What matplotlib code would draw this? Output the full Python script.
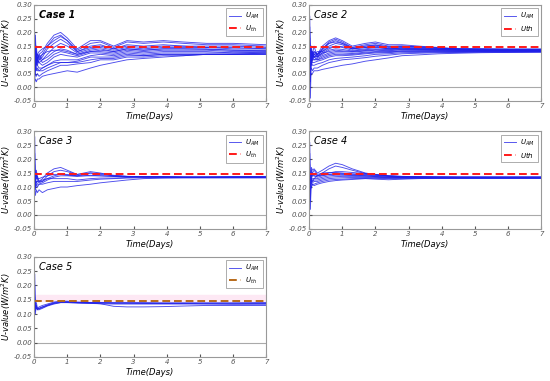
import numpy as np
import matplotlib.pyplot as plt

# time axis (days) shared by all curves
t = [0, 0.02, 0.04, 0.07, 0.1, 0.15, 0.25, 0.4, 0.6, 0.8, 1.0, 1.3, 1.7, 2.0, 2.4, 2.8, 3.3, 3.9, 4.5, 5.2, 6.0, 7.0]

u_th = 0.145

case1 = [
    [0.10, 0.20, 0.05, 0.15, 0.10, 0.12, 0.13, 0.16, 0.19, 0.20, 0.18, 0.14, 0.17, 0.17, 0.15, 0.17, 0.165, 0.17, 0.165, 0.16, 0.16, 0.155],
    [0.05, 0.18, 0.10, 0.12, 0.08, 0.10, 0.12, 0.15, 0.18, 0.19, 0.17, 0.135, 0.16, 0.165, 0.145, 0.165, 0.16, 0.165, 0.16, 0.155, 0.155, 0.15],
    [0.00, 0.12, 0.19, 0.09, 0.11, 0.10, 0.11, 0.14, 0.16, 0.175, 0.16, 0.13, 0.15, 0.155, 0.14, 0.155, 0.15, 0.155, 0.15, 0.15, 0.15, 0.145],
    [-0.03, 0.08, 0.14, 0.11, 0.09, 0.12, 0.10, 0.12, 0.145, 0.16, 0.15, 0.125, 0.14, 0.145, 0.135, 0.145, 0.14, 0.145, 0.145, 0.145, 0.14, 0.14],
    [0.02, 0.10, 0.06, 0.13, 0.10, 0.09, 0.10, 0.11, 0.13, 0.14, 0.135, 0.12, 0.135, 0.14, 0.13, 0.14, 0.135, 0.14, 0.14, 0.14, 0.135, 0.135],
    [0.08, 0.15, 0.09, 0.10, 0.12, 0.11, 0.09, 0.10, 0.12, 0.13, 0.125, 0.115, 0.13, 0.13, 0.125, 0.135, 0.13, 0.135, 0.135, 0.135, 0.13, 0.13],
    [0.00, 0.06, 0.11, 0.08, 0.10, 0.09, 0.08, 0.09, 0.11, 0.12, 0.115, 0.11, 0.125, 0.125, 0.12, 0.13, 0.125, 0.13, 0.13, 0.13, 0.125, 0.128],
    [0.03, 0.09, 0.07, 0.09, 0.08, 0.07, 0.07, 0.08, 0.095, 0.10, 0.10, 0.10, 0.115, 0.12, 0.115, 0.125, 0.12, 0.125, 0.125, 0.125, 0.125, 0.125],
    [0.01, 0.05, 0.08, 0.06, 0.07, 0.06, 0.06, 0.07, 0.08, 0.09, 0.09, 0.095, 0.11, 0.11, 0.11, 0.12, 0.115, 0.12, 0.12, 0.12, 0.12, 0.122],
    [0.00, 0.03, 0.05, 0.04, 0.05, 0.04, 0.05, 0.06, 0.07, 0.08, 0.08, 0.085, 0.09, 0.10, 0.10, 0.11, 0.11, 0.115, 0.115, 0.12, 0.12, 0.12],
    [0.01, 0.02, 0.03, 0.02, 0.03, 0.03, 0.04, 0.045, 0.05, 0.055, 0.06, 0.055, 0.07, 0.08, 0.09, 0.10, 0.105, 0.11, 0.115, 0.12, 0.12, 0.125],
    [0.06, 0.13, 0.08, 0.11, 0.12, 0.13, 0.14, 0.15, 0.17, 0.185, 0.17, 0.13, 0.145, 0.15, 0.14, 0.15, 0.145, 0.15, 0.15, 0.145, 0.145, 0.14],
    [0.04, 0.11, 0.12, 0.10, 0.11, 0.11, 0.12, 0.13, 0.135, 0.135, 0.13, 0.12, 0.13, 0.135, 0.13, 0.14, 0.135, 0.14, 0.14, 0.138, 0.135, 0.133],
    [0.02, 0.07, 0.09, 0.07, 0.06, 0.06, 0.07, 0.08, 0.09, 0.09, 0.09, 0.09, 0.10, 0.105, 0.105, 0.115, 0.115, 0.12, 0.12, 0.12, 0.12, 0.12],
]

case2 = [
    [0.12, 0.26, 0.05, 0.15, 0.11, 0.13, 0.12, 0.15, 0.17, 0.18, 0.17, 0.15, 0.16, 0.165, 0.155, 0.155, 0.15, 0.145, 0.14, 0.14, 0.14, 0.14],
    [0.10, 0.22, 0.02, 0.13, 0.12, 0.11, 0.11, 0.14, 0.165, 0.175, 0.165, 0.145, 0.155, 0.16, 0.15, 0.15, 0.148, 0.143, 0.14, 0.14, 0.138, 0.138],
    [0.08, 0.18, -0.04, 0.14, 0.10, 0.12, 0.12, 0.135, 0.16, 0.17, 0.16, 0.14, 0.15, 0.155, 0.145, 0.148, 0.145, 0.142, 0.14, 0.138, 0.137, 0.137],
    [0.05, 0.15, 0.10, 0.09, 0.13, 0.11, 0.12, 0.13, 0.15, 0.16, 0.155, 0.14, 0.145, 0.15, 0.142, 0.145, 0.143, 0.14, 0.138, 0.137, 0.136, 0.136],
    [0.00, 0.12, 0.14, 0.10, 0.12, 0.15, 0.11, 0.125, 0.14, 0.15, 0.145, 0.135, 0.14, 0.145, 0.14, 0.142, 0.14, 0.138, 0.137, 0.136, 0.135, 0.135],
    [0.04, 0.10, 0.12, 0.11, 0.10, 0.12, 0.11, 0.12, 0.135, 0.14, 0.138, 0.132, 0.137, 0.14, 0.137, 0.14, 0.138, 0.137, 0.136, 0.135, 0.134, 0.134],
    [0.06, 0.13, 0.08, 0.12, 0.11, 0.10, 0.105, 0.115, 0.125, 0.13, 0.13, 0.128, 0.132, 0.135, 0.133, 0.137, 0.136, 0.135, 0.134, 0.133, 0.133, 0.133],
    [0.02, 0.09, 0.11, 0.08, 0.10, 0.10, 0.10, 0.11, 0.12, 0.125, 0.125, 0.123, 0.128, 0.13, 0.13, 0.133, 0.133, 0.133, 0.132, 0.132, 0.132, 0.132],
    [0.00, 0.07, 0.09, 0.10, 0.09, 0.09, 0.095, 0.10, 0.11, 0.115, 0.115, 0.117, 0.122, 0.125, 0.126, 0.13, 0.13, 0.13, 0.13, 0.13, 0.13, 0.13],
    [0.03, 0.05, 0.07, 0.09, 0.08, 0.08, 0.085, 0.09, 0.10, 0.105, 0.107, 0.11, 0.115, 0.12, 0.122, 0.126, 0.127, 0.128, 0.128, 0.129, 0.129, 0.13],
    [0.00, 0.03, 0.06, 0.07, 0.06, 0.07, 0.07, 0.08, 0.09, 0.095, 0.10, 0.103, 0.108, 0.113, 0.117, 0.122, 0.124, 0.126, 0.127, 0.128, 0.128, 0.128],
    [-0.02, 0.01, 0.04, 0.05, 0.05, 0.06, 0.06, 0.065, 0.07, 0.075, 0.08, 0.085, 0.095, 0.10, 0.107, 0.115, 0.118, 0.122, 0.124, 0.126, 0.127, 0.128],
    [0.09, 0.20, 0.12, 0.13, 0.12, 0.13, 0.12, 0.14, 0.16, 0.165, 0.16, 0.145, 0.15, 0.153, 0.148, 0.15, 0.147, 0.143, 0.14, 0.139, 0.138, 0.137],
    [0.07, 0.16, 0.09, 0.12, 0.13, 0.12, 0.13, 0.13, 0.145, 0.15, 0.148, 0.14, 0.145, 0.147, 0.14, 0.143, 0.141, 0.139, 0.137, 0.136, 0.135, 0.135],
    [0.01, 0.11, 0.13, 0.12, 0.11, 0.11, 0.115, 0.125, 0.13, 0.135, 0.133, 0.13, 0.134, 0.137, 0.135, 0.138, 0.137, 0.136, 0.135, 0.134, 0.134, 0.134],
    [0.05, 0.08, 0.10, 0.11, 0.12, 0.11, 0.10, 0.105, 0.115, 0.12, 0.12, 0.12, 0.125, 0.128, 0.128, 0.132, 0.132, 0.132, 0.131, 0.131, 0.131, 0.131],
]

case3 = [
    [0.10, 0.28, 0.10, 0.16, 0.13, 0.12, 0.13, 0.15, 0.165, 0.17, 0.16, 0.145, 0.15, 0.145, 0.14, 0.138, 0.137, 0.136, 0.135, 0.135, 0.135, 0.135],
    [0.05, 0.22, 0.12, 0.15, 0.12, 0.115, 0.12, 0.14, 0.155, 0.16, 0.155, 0.145, 0.155, 0.15, 0.14, 0.138, 0.137, 0.137, 0.136, 0.136, 0.136, 0.136],
    [0.03, 0.16, 0.13, 0.13, 0.14, 0.12, 0.12, 0.13, 0.14, 0.145, 0.145, 0.14, 0.15, 0.148, 0.142, 0.138, 0.137, 0.137, 0.136, 0.136, 0.137, 0.138],
    [0.08, 0.18, 0.11, 0.12, 0.11, 0.11, 0.115, 0.125, 0.135, 0.14, 0.14, 0.138, 0.142, 0.14, 0.138, 0.136, 0.136, 0.135, 0.135, 0.135, 0.135, 0.135],
    [0.06, 0.14, 0.10, 0.12, 0.12, 0.12, 0.125, 0.13, 0.13, 0.13, 0.13, 0.125, 0.13, 0.132, 0.132, 0.134, 0.135, 0.135, 0.134, 0.134, 0.135, 0.135],
    [0.04, 0.12, 0.09, 0.11, 0.10, 0.11, 0.11, 0.115, 0.12, 0.12, 0.12, 0.12, 0.125, 0.128, 0.13, 0.132, 0.133, 0.133, 0.133, 0.133, 0.133, 0.133],
    [0.02, 0.10, 0.07, 0.09, 0.08, 0.09, 0.08, 0.09, 0.095, 0.10, 0.10, 0.105, 0.11, 0.115, 0.12, 0.125, 0.13, 0.132, 0.133, 0.133, 0.133, 0.133],
    [0.12, 0.15, 0.14, 0.14, 0.13, 0.13, 0.135, 0.14, 0.145, 0.145, 0.142, 0.14, 0.14, 0.14, 0.138, 0.137, 0.136, 0.136, 0.135, 0.135, 0.136, 0.137],
]

case4 = [
    [0.10, 0.26, 0.10, 0.17, 0.16, 0.165, 0.15, 0.16, 0.175, 0.185, 0.18, 0.165, 0.15, 0.145, 0.14, 0.138, 0.137, 0.136, 0.135, 0.135, 0.135, 0.135],
    [0.08, 0.22, 0.05, 0.16, 0.15, 0.16, 0.145, 0.15, 0.165, 0.175, 0.17, 0.16, 0.148, 0.143, 0.14, 0.138, 0.137, 0.136, 0.135, 0.135, 0.135, 0.135],
    [0.05, 0.18, 0.02, 0.15, 0.14, 0.15, 0.14, 0.145, 0.15, 0.155, 0.155, 0.152, 0.148, 0.145, 0.14, 0.137, 0.136, 0.135, 0.135, 0.135, 0.135, 0.135],
    [0.03, 0.15, 0.12, 0.13, 0.14, 0.14, 0.135, 0.14, 0.145, 0.148, 0.148, 0.147, 0.145, 0.142, 0.138, 0.136, 0.135, 0.135, 0.135, 0.135, 0.135, 0.135],
    [0.06, 0.14, 0.10, 0.13, 0.12, 0.13, 0.13, 0.135, 0.14, 0.142, 0.142, 0.141, 0.14, 0.138, 0.135, 0.134, 0.134, 0.134, 0.134, 0.134, 0.134, 0.134],
    [0.04, 0.12, 0.11, 0.12, 0.12, 0.125, 0.125, 0.13, 0.135, 0.137, 0.138, 0.138, 0.137, 0.135, 0.133, 0.133, 0.133, 0.133, 0.133, 0.133, 0.133, 0.133],
    [0.02, 0.10, 0.12, 0.11, 0.115, 0.12, 0.12, 0.125, 0.13, 0.132, 0.133, 0.134, 0.134, 0.133, 0.132, 0.132, 0.132, 0.132, 0.132, 0.132, 0.132, 0.132],
    [0.07, 0.11, 0.09, 0.10, 0.11, 0.11, 0.115, 0.12, 0.125, 0.127, 0.128, 0.13, 0.131, 0.131, 0.13, 0.13, 0.131, 0.131, 0.131, 0.131, 0.131, 0.131],
    [0.09, 0.13, 0.11, 0.12, 0.13, 0.13, 0.14, 0.15, 0.152, 0.152, 0.15, 0.146, 0.143, 0.14, 0.138, 0.136, 0.136, 0.136, 0.136, 0.136, 0.136, 0.136],
    [0.11, 0.16, 0.13, 0.14, 0.15, 0.14, 0.14, 0.142, 0.145, 0.146, 0.145, 0.143, 0.14, 0.137, 0.135, 0.134, 0.134, 0.134, 0.134, 0.134, 0.134, 0.134],
    [0.01, 0.09, 0.10, 0.10, 0.11, 0.105, 0.11, 0.115, 0.12, 0.123, 0.125, 0.127, 0.13, 0.128, 0.126, 0.128, 0.13, 0.131, 0.131, 0.131, 0.131, 0.131],
]

case5 = [
    [0.12, 0.24, 0.10, 0.14, 0.12, 0.125, 0.13, 0.135, 0.142, 0.145, 0.145, 0.142, 0.14, 0.14, 0.138, 0.138, 0.137, 0.137, 0.137, 0.136, 0.136, 0.137],
    [0.10, 0.20, 0.11, 0.13, 0.115, 0.12, 0.125, 0.13, 0.138, 0.142, 0.142, 0.14, 0.138, 0.136, 0.127, 0.125, 0.125, 0.126, 0.128, 0.13, 0.13, 0.13],
    [0.13, 0.16, 0.12, 0.12, 0.115, 0.115, 0.12, 0.128, 0.135, 0.14, 0.14, 0.138, 0.137, 0.136, 0.135, 0.135, 0.135, 0.135, 0.135, 0.135, 0.134, 0.134],
    [0.14, 0.15, 0.13, 0.125, 0.12, 0.118, 0.122, 0.13, 0.137, 0.14, 0.14, 0.14, 0.139, 0.138, 0.138, 0.138, 0.138, 0.138, 0.138, 0.138, 0.138, 0.138],
    [0.11, 0.14, 0.125, 0.12, 0.118, 0.12, 0.125, 0.132, 0.14, 0.143, 0.143, 0.14, 0.14, 0.14, 0.14, 0.14, 0.14, 0.139, 0.139, 0.139, 0.139, 0.14],
]

cases = [case1, case2, case3, case4, case5]
titles = ["Case 1", "Case 2", "Case 3", "Case 4", "Case 5"]
am_labels = ["$U_{AM}$", "$U_{AM}$", "$U_{AM}$", "$U_{AM}$", "$U_{AM}$"]
th_labels = ["$U_{th}$", "$Uth$", "$U_{th}$", "$Uth$", "$U_{th}$"]
th_colors = ["#ff1a1a", "#ff1a1a", "#ff1a1a", "#ff1a1a", "#b86a1a"]

# axes boxes [left, bottom, width, height] in figure fraction
boxes = [
    [0.062, 0.735, 0.422, 0.252],
    [0.562, 0.735, 0.422, 0.252],
    [0.062, 0.399, 0.422, 0.257],
    [0.562, 0.399, 0.422, 0.257],
    [0.062, 0.063, 0.422, 0.263],
]

fig = plt.figure(figsize=(5.5, 3.81), dpi=100)

for i in range(5):
    ax = fig.add_axes(boxes[i])
    if i == 4:
        ax.axhspan(0.145, 0.168, color="#fde8f4", zorder=0)
    ax.axhline(0, color="#aaaaaa", lw=0.8, zorder=1)
    for j, curve in enumerate(cases[i]):
        ax.plot(t, curve, color="#1f1fe8", lw=0.65, alpha=0.8,
                label=am_labels[i] if j == 0 else None)
    ax.plot([0, 7], [u_th, u_th], color=th_colors[i], lw=1.4, ls=(0, (4, 2)),
            label=th_labels[i])

    ax.set_xlim(0, 7)
    ax.set_ylim(-0.05, 0.30)
    ax.set_xticks(range(8))
    ax.set_yticks(np.arange(-0.05, 0.31, 0.05))
    ax.set_yticklabels(["%.2f" % v for v in np.arange(-0.05, 0.31, 0.05)])
    ax.tick_params(labelsize=5, length=2, direction="in", colors="#555555", pad=1.5)
    for lab in ax.get_xticklabels() + ax.get_yticklabels():
        lab.set_fontstyle("italic")
    for s in ax.spines.values():
        s.set_color("#999999")
        s.set_linewidth(0.8)

    ax.set_xlabel("Time(Days)", fontsize=6, style="italic", labelpad=2)
    ax.set_ylabel("U-value(W/m$^2$K)", fontsize=6, style="italic")
    ax.yaxis.set_label_coords(-0.092, 0.5)
    ax.text(0.02, 0.95, titles[i], transform=ax.transAxes, fontsize=7,
            style="italic", fontweight="bold" if i == 0 else "normal",
            va="top", ha="left")

    leg = ax.legend(loc="upper right", fontsize=5, frameon=True, fancybox=False,
                    handlelength=1.8, borderpad=0.4, labelspacing=0.3,
                    handletextpad=0.6, borderaxespad=0.5)
    leg.get_frame().set_edgecolor("#888888")
    leg.get_frame().set_linewidth(0.6)

plt.savefig("out.png", dpi=100)
